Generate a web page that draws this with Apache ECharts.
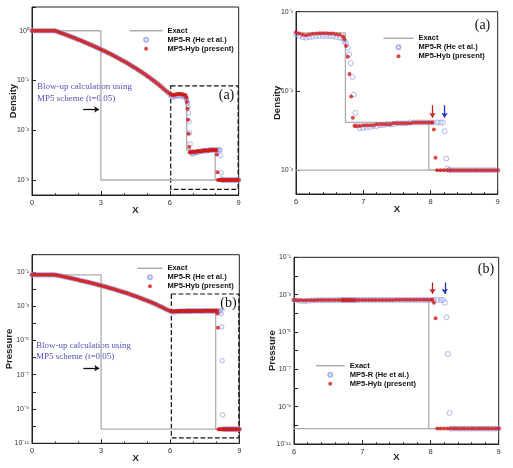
<!DOCTYPE html>
<html><head><meta charset="utf-8">
<script src="https://cdn.jsdelivr.net/npm/echarts@6/dist/echarts.min.js"></script>
<style>html,body{margin:0;padding:0;background:#fff}#c{width:513px;height:468px}</style>
</head><body><div id="c"></div>
<script>
// ---------- data ----------
const xHyb = [0,0.1,0.2,0.3,0.4,0.5,0.6,0.7,0.8,0.9,1.0,
1.1,1.2,1.3,1.4,1.5,1.6,1.7,1.8,1.9,2.0,
2.1,2.2,2.3,2.4,2.5,2.6,2.7,2.8,2.9,3.0,
3.1,3.2,3.3,3.4,3.5,3.6,3.7,3.8,3.9,4.0,
4.1,4.2,4.3,4.4,4.5,4.6,4.7,4.8,4.9,5.0,
5.1,5.2,5.3,5.4,5.5,5.6,5.7,5.8,5.9,6.0,
6.05,6.1,6.15,6.2,6.25,6.3,6.35,6.4,6.45,6.5,6.55,6.6,6.65,6.7,
6.72,6.745,6.77,6.795,6.82,6.845,6.87,
6.9,6.95,7.0,7.05,7.1,7.15,7.2,7.25,7.3,7.35,7.4,7.45,7.5,7.55,7.6,7.65,7.7,7.75,7.8,7.85,7.9,7.95,8.0,
8.03,8.05,8.075,
8.1,8.15,8.2,8.25,8.3,8.35,8.4,8.45,8.5,8.55,8.6,8.65,8.7,8.75,8.8,8.85,8.9,8.95,9.0];
const rhoHyb = [1,1,1,1,1,1,1,1,1,1,0.995,
0.962,0.927,0.892,0.857,0.824,0.791,0.76,0.729,0.699,0.67,
0.642,0.614,0.587,0.562,0.536,0.512,0.488,0.465,0.443,0.422,
0.401,0.381,0.362,0.343,0.325,0.308,0.291,0.275,0.259,0.244,
0.23,0.216,0.203,0.19,0.178,0.166,0.155,0.145,0.135,0.125,
0.116,0.107,0.099,0.091,0.084,0.077,0.07,0.064,0.059,0.055,
0.053,0.051,0.0505,0.0515,0.0525,0.053,0.0535,0.0535,0.0535,0.053,0.053,0.052,0.051,0.0485,
0.045,0.037,0.027,0.0163,0.0085,0.0046,0.0036,
0.0036,0.0036,0.0037,0.0037,0.0037,0.0037,0.0038,0.0038,0.0038,0.0038,0.0038,0.0039,0.0039,0.0039,0.0039,0.0039,0.0039,0.004,0.004,0.004,0.004,0.004,0.004,
0.004,0.00325,0.00143,
0.001,0.001,0.001,0.001,0.001,0.001,0.001,0.001,0.001,0.001,0.001,0.001,0.001,0.001,0.001,0.001,0.001,0.001,0.001];
const pHyb = [0.0667,0.0667,0.0667,0.0667,0.0667,0.0667,0.0667,0.0667,0.0667,0.0667,0.0663,
0.0626,0.0588,0.0551,0.0516,0.0483,0.0452,0.0422,0.0394,0.0367,0.0342,
0.0318,0.0296,0.0275,0.0255,0.0236,0.0219,0.0202,0.0186,0.0172,0.0158,
0.0146,0.0134,0.0123,0.0112,0.0102,0.00934,0.00851,0.00774,0.00702,0.00636,
0.00576,0.00519,0.00467,0.0042,0.00376,0.00336,0.00299,0.00265,0.00235,0.00208,
0.00184,0.00162,0.00141,0.00123,0.00107,0.000925,0.000797,0.000683,0.00059,0.00052,
0.000505,0.000495,0.00049,0.000495,0.0005,0.000505,0.00051,0.00051,0.000515,0.000515,0.000515,0.00052,0.00052,0.00052,
0.00052,0.00052,0.00052,0.00052,0.00052,0.00052,0.00052,
0.00052,0.00052,0.00052,0.00052,0.00052,0.00052,0.00052,0.00052,0.00052,0.00052,0.00052,0.00052,0.00053,0.00053,0.00053,0.00053,0.00053,0.00053,0.00053,0.00053,0.00053,0.00053,0.00053,
0.00053,0.00037,0.000054,
6.67e-11,6.67e-11,6.67e-11,6.67e-11,6.67e-11,6.67e-11,6.67e-11,6.67e-11,6.67e-11,6.67e-11,6.67e-11,6.67e-11,6.67e-11,6.67e-11,6.67e-11,6.67e-11,6.67e-11,6.67e-11,6.67e-11];

const xR = [0,0.1,0.2,0.3,0.4,0.5,0.6,0.7,0.8,0.9,1.0,
1.1,1.2,1.3,1.4,1.5,1.6,1.7,1.8,1.9,2.0,
2.1,2.2,2.3,2.4,2.5,2.6,2.7,2.8,2.9,3.0,
3.1,3.2,3.3,3.4,3.5,3.6,3.7,3.8,3.9,4.0,
4.1,4.2,4.3,4.4,4.5,4.6,4.7,4.8,4.9,5.0,
5.1,5.2,5.3,5.4,5.5,5.6,5.7,5.8,5.9,6.0,
6.05,6.1,6.15,6.2,6.25,6.3,6.35,6.4,6.45,6.5,6.55,6.6,6.65,6.7,
6.72,6.745,6.77,6.79,6.815,6.84,6.86,6.885,6.91,
6.95,7.0,7.05,7.1,7.15,7.2,7.25,7.3,7.35,7.4,7.45,7.5,7.55,7.6,7.65,7.7,7.75,7.8,7.85,7.9,7.95,8.0,8.05,8.1,8.15,
8.185,8.21,8.235,8.255,8.28,
8.3,8.35,8.4,8.45,8.5,8.55,8.6,8.65,8.7,8.75,8.8,8.85,8.9,8.95,9.0];
const rhoR = [1,1,1,1,1,1,1,1,1,1,0.995,
0.962,0.927,0.892,0.857,0.824,0.791,0.76,0.729,0.699,0.67,
0.642,0.614,0.587,0.562,0.536,0.512,0.488,0.465,0.443,0.422,
0.401,0.381,0.362,0.343,0.325,0.308,0.291,0.275,0.259,0.244,
0.23,0.216,0.203,0.19,0.178,0.166,0.155,0.145,0.135,0.125,
0.116,0.107,0.099,0.091,0.084,0.077,0.07,0.064,0.058,0.052,
0.0495,0.0475,0.047,0.0475,0.0485,0.049,0.0495,0.0495,0.0495,0.049,0.049,0.048,0.047,0.0455,
0.042,0.04,0.035,0.029,0.0224,0.015,0.009,0.0053,0.0037,
0.0034,0.0034,0.0035,0.0035,0.0036,0.0036,0.0037,0.0037,0.0038,0.0038,0.0038,0.0039,0.0039,0.0039,0.0039,0.004,0.004,0.004,0.004,0.004,0.004,0.004,0.004,0.004,0.004,
0.004,0.0031,0.0014,0.00105,0.001,
0.001,0.001,0.001,0.001,0.001,0.001,0.001,0.001,0.001,0.001,0.001,0.001,0.001,0.001,0.001];
const pR = [0.0667,0.0667,0.0667,0.0667,0.0667,0.0667,0.0667,0.0667,0.0667,0.0667,0.0663,
0.0626,0.0588,0.0551,0.0516,0.0483,0.0452,0.0422,0.0394,0.0367,0.0342,
0.0318,0.0296,0.0275,0.0255,0.0236,0.0219,0.0202,0.0186,0.0172,0.0158,
0.0146,0.0134,0.0123,0.0112,0.0102,0.00934,0.00851,0.00774,0.00702,0.00636,
0.00576,0.00519,0.00467,0.0042,0.00376,0.00336,0.00299,0.00265,0.00235,0.00208,
0.00184,0.00162,0.00141,0.00123,0.00107,0.000925,0.000797,0.000683,0.00059,0.00051,
0.00049,0.00046,0.00045,0.00046,0.00048,0.00049,0.0005,0.0005,0.0005,0.0005,0.0005,0.0005,0.00051,0.00051,
0.00051,0.00051,0.00051,0.00051,0.00051,0.00051,0.00051,0.00051,0.00051,
0.00052,0.00052,0.00052,0.00052,0.00052,0.00052,0.00052,0.00052,0.00052,0.00052,0.00052,0.00052,0.00052,0.00052,0.00052,0.00052,0.00052,0.00052,0.00052,0.00052,0.00052,0.00052,0.00052,0.00052,0.00052,
0.00052,0.00037,0.000062,6.6e-7,4.6e-10,
6.67e-11,6.67e-11,6.67e-11,6.67e-11,6.67e-11,6.67e-11,6.67e-11,6.67e-11,6.67e-11,6.67e-11,6.67e-11,6.67e-11,6.67e-11,6.67e-11,6.67e-11];

// "Exact": initial state and exact solution
const xInit = [0, 3, 3, 9];
const rhoInit = [1, 1, 0.001, 0.001];
const pInit = [0.0667, 0.0667, 6.67e-11, 6.67e-11];
const xExact = [0,1,1.5,2,2.5,3,3.5,4,4.5,5,5.5,6,6.735,6.735,7.975,7.975,9];
const rhoExact = [1,1,0.824,0.67,0.536,0.422,0.325,0.244,0.178,0.125,0.0837,0.054,0.054,0.004,0.004,0.001,0.001];
const pExact = [0.0667,0.0667,0.0483,0.0342,0.0236,0.0158,0.0102,0.00636,0.00376,0.00208,0.00107,0.0005,0.0005,0.0005,0.0005,6.67e-11,6.67e-11];

const names = ['Exact', 'MP5-R (He et al.)', 'MP5-Hyb (present)'];
const noteText = 'Blow-up calculation using\nMP5 scheme (t=0.05)';

// ---------- helpers ----------
const SUP = {'-':'\u207B','0':'\u2070','1':'\u00B9','2':'\u00B2','3':'\u00B3','4':'\u2074','5':'\u2075','6':'\u2076','7':'\u2077','8':'\u2078','9':'\u2079'};
function decLabel(oddOnly) {
  return function (v) {
    const l = Math.log10(v), e = Math.round(l);
    if (Math.abs(l - e) > 1e-6) return '';
    if (oddOnly && e % 2 === 0) return '';
    return '10' + String(e).split('').map(c => SUP[c]).join('');
  };
}
function pairs(xs, ys) { return xs.map((x, i) => [x, ys[i]]); }
const FONT = 'Liberation Sans';
const RED = '#d11a1a', BLUE = '#9aa3ea', GRAY = '#adadad';

function xAxis(gi, min, max, interval, split, gap) {
  return {type:'value', gridIndex:gi, min, max, interval, name:'X', nameLocation:'middle', nameGap:gap,
    nameMoveOverlap:false,
    nameTextStyle:{fontWeight:'bold', fontSize:9.5, color:'#222', fontFamily:FONT},
    axisLine:{lineStyle:{color:'#222'}},
    axisTick:{inside:true, length:4, lineStyle:{color:'#222'}},
    minorTick:{show:true, splitNumber:split, length:2, lineStyle:{color:'#444'}},
    splitLine:{show:false},
    axisLabel:{fontSize:7.5, color:'#333', margin:4, fontFamily:FONT}};
}
function yAxis(gi, min, max, name, gap, oddOnly, interval) {
  const a = {type:'log', logBase:10, gridIndex:gi, min, max, name, nameLocation:'middle', nameGap:gap,
    nameMoveOverlap:false,
    nameTextStyle:{fontWeight:'bold', fontSize:9.5, color:'#222', fontFamily:FONT},
    axisLine:{lineStyle:{color:'#222'}},
    axisTick:{inside:true, length:4, lineStyle:{color:'#222'}},
    splitLine:{show:false},
    axisLabel:{fontSize:7, color:'#333', margin:3, fontFamily:FONT, formatter:decLabel(oddOnly)}};
  if (interval) a.interval = interval;
  return a;
}
function exactSeries(gi, xs, ys, extra) {
  return Object.assign({type:'line', name:names[0], xAxisIndex:gi, yAxisIndex:gi, data:pairs(xs, ys),
    showSymbol:false, symbol:'none', lineStyle:{color:GRAY, width:1.3}, itemStyle:{color:GRAY},
    clip:true, silent:true, z:1, animation:false}, extra || {});
}
function rSeries(gi, ys, size) {
  return {type:'scatter', name:names[1], xAxisIndex:gi, yAxisIndex:gi, data:pairs(xR, ys),
    symbol:'circle', symbolSize:size, itemStyle:{color:'rgba(255,255,255,0)', borderColor:BLUE, borderWidth:1},
    clip:true, silent:true, z:2};
}
function hSeries(gi, ys, size) {
  return {type:'scatter', name:names[2], xAxisIndex:gi, yAxisIndex:gi, data:pairs(xHyb, ys),
    symbol:'circle', symbolSize:size, itemStyle:{color:RED},
    clip:true, silent:true, z:3};
}
const boxStyle = {color:'rgba(0,0,0,0)', borderColor:'#111', borderWidth:1.2, borderType:'dashed'};
function arrowLine(p1, p2, color) {
  return [{coord:p1, lineStyle:{color, width:1.3, type:'solid'}}, {coord:p2}];
}
function markArrows(items) {
  return {silent:true, symbol:['none','arrow'], symbolSize:5, label:{show:false}, data:items, animation:false};
}
function legend(left, top, w) {
  return {
    data:[
      {name:names[0], itemStyle:{opacity:0}, lineStyle:{color:GRAY, width:1.5}},
      {name:names[1]},
      {name:names[2]}
    ],
    orient:'vertical', left, top, itemWidth:w, itemHeight:4, itemGap:0,
    selectedMode:false, textStyle:{fontSize:7.5, fontWeight:'bold', color:'#111', fontFamily:FONT, lineHeight:9}};
}

const chart = echarts.init(document.getElementById('c'), null, {renderer:'canvas'});
chart.setOption({
  animation:false,
  backgroundColor:'#fff',
  grid:[
    {left:32, top:7, width:206.7, height:188, show:true, borderColor:'#222', borderWidth:1},
    {left:296, top:11.7, width:201.7, height:182.3, show:true, borderColor:'#222', borderWidth:1},
    {left:32, top:254.7, width:207.3, height:188.6, show:true, borderColor:'#222', borderWidth:1},
    {left:294, top:257.3, width:204.7, height:186.7, show:true, borderColor:'#222', borderWidth:1}
  ],
  xAxis:[
    xAxis(0, 0, 9, 3, 3, 10),
    xAxis(1, 6, 9, 1, 5, 10),
    xAxis(2, 0, 9, 3, 3, 10),
    xAxis(3, 6, 9, 1, 5, 8)
  ],
  yAxis:[
    yAxis(0, 5e-4, 3, 'Density', 14, false),
    yAxis(1, 5e-4, 0.1, 'Density', 13.5, false),
    yAxis(2, 1e-11, 1, 'Pressure', 17.5, true, 1),
    yAxis(3, 1e-11, 0.1, 'Pressure', 17, true, 1)
  ],
  legend:[
    legend(124, 21.2, 32.7),
    legend(377.7, 28.8, 30),
    legend(131.7, 258.8, 25),
    legend(310, 356.2, 29)
  ],
  series:[
    exactSeries(0, xInit, rhoInit, {
      markArea:{silent:true, itemStyle:boxStyle, data:[[{coord:[6.04, 0.078]}, {coord:[8.975, 6.5e-4]}]]},
      markLine:markArrows([arrowLine([2.23, 0.0262], [2.92, 0.0262], '#111')])
    }),
    exactSeries(0, xExact, rhoExact),
    rSeries(0, rhoR, 4.5),
    hSeries(0, rhoHyb, 4),

    exactSeries(1, xInit, rhoInit, {
      markLine:markArrows([arrowLine([8.03, 0.0066], [8.03, 0.0046], '#c42020'),
                           arrowLine([8.21, 0.0066], [8.21, 0.0046], '#2233bb')])
    }),
    exactSeries(1, xExact, rhoExact),
    rSeries(1, rhoR, 5),
    hSeries(1, rhoHyb, 4),

    exactSeries(2, xInit, pInit, {
      markArea:{silent:true, itemStyle:boxStyle, data:[[{coord:[6.05, 5.1e-3]}, {coord:[8.98, 2.1e-11]}]]},
      markLine:markArrows([arrowLine([2.23, 2.4e-7], [2.92, 2.4e-7], '#111')])
    }),
    exactSeries(2, xExact, pExact),
    rSeries(2, pR, 4.5),
    hSeries(2, pHyb, 4),

    exactSeries(3, xInit, pInit, {
      markLine:markArrows([arrowLine([8.03, 4.5e-3], [8.03, 1.1e-3], '#c42020'),
                           arrowLine([8.21, 4.5e-3], [8.21, 1.1e-3], '#2233bb')])
    }),
    exactSeries(3, xExact, pExact),
    rSeries(3, pR, 5),
    hSeries(3, pHyb, 4)
  ],
  graphic:[
    {type:'text', left:37, top:81, silent:true, style:{text:noteText, font:'9px "Liberation Serif"', fill:'#5252b8', lineHeight:11.7}},
    {type:'text', left:36, top:340, silent:true, style:{text:noteText, font:'9px "Liberation Serif"', fill:'#5252b8', lineHeight:11}},
    {type:'text', silent:true, style:{text:'(a)', x:226.5, y:95, align:'center', verticalAlign:'middle', font:'14px "Liberation Serif"', fill:'#111'}},
    {type:'text', silent:true, style:{text:'(a)', x:482.5, y:25, align:'center', verticalAlign:'middle', font:'14px "Liberation Serif"', fill:'#111'}},
    {type:'text', silent:true, style:{text:'(b)', x:228.5, y:303, align:'center', verticalAlign:'middle', font:'14px "Liberation Serif"', fill:'#111'}},
    {type:'text', silent:true, style:{text:'(b)', x:486, y:269, align:'center', verticalAlign:'middle', font:'14px "Liberation Serif"', fill:'#111'}}
  ]
});
</script></body></html>
